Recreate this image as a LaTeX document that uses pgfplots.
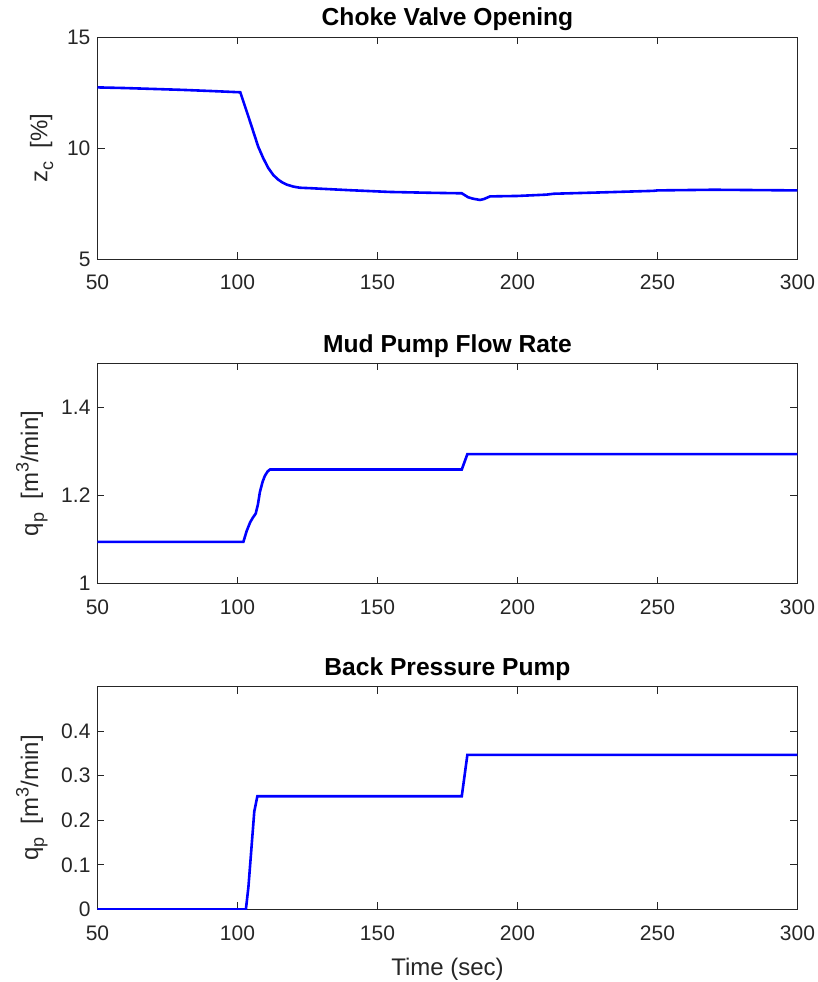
\documentclass[border=0pt]{standalone}
\usepackage{fontspec}
\setmainfont{Liberation Sans}
\usepackage{pgfplots}
\pgfplotsset{compat=1.18}
\definecolor{axgray}{gray}{0.15}
\newcommand{\sub}[1]{\raisebox{-0.45ex}{\fontsize{9}{9}\selectfont #1}}
\newcommand{\sups}[1]{\raisebox{0.75ex}{\fontsize{9}{9}\selectfont #1}}
\begin{document}
\begin{tikzpicture}
\pgfplotsset{
  every axis/.append style={
    width=350pt, scale only axis,
    xmin=50, xmax=300, xtick={50,100,...,300},
    tick align=inside, major tick length=3.5pt,
    axis line style={axgray, line width=0.5pt},
    every tick/.style={axgray, line width=0.5pt},
    tick label style={font=\fontsize{10.5}{12}\selectfont, text=axgray},
    xticklabel style={yshift=-4.5pt},
    /pgf/number format/assume math mode=true,
    title style={font=\fontsize{12.3}{14}\selectfont\bfseries, yshift=-6.5pt},
    ylabel style={font=\fontsize{12}{14}\selectfont, text=axgray},
    xlabel style={font=\fontsize{12}{14}\selectfont, text=axgray, yshift=-2pt},
    scaled ticks=false,
  },
}
\useasboundingbox (-48.75pt,-361.5pt) rectangle (360.25pt,129.5pt);
\begin{axis}[at={(0pt,0pt)}, anchor=south west, height=111pt,
  ymin=5, ymax=15, ytick={5,10,15},
  title={Choke Valve Opening},
  ylabel={z\sub{c}\ \ [\%]}]
\addplot[blue, line width=1.3pt] coordinates {
(50,12.73) (60,12.70) (70,12.66) (80,12.62) (90,12.57) (101,12.51) (104.2,11.3) (107.4,10.06) (109.2,9.54) (111,9.1) (112.8,8.78) (114.5,8.58) (116,8.45) (117.6,8.35) (120,8.26) (122.3,8.21) (126,8.19) (130.6,8.16) (140,8.1) (154.5,8.02) (170,7.98) (180.1,7.96) (182.4,7.78) (184,7.72) (186.6,7.66) (188,7.7) (190.2,7.82) (200,7.84) (210.4,7.9) (213,7.94) (230,8.0) (248.5,8.07) (250,8.09) (270,8.12) (300,8.09)
};
\end{axis}
\begin{axis}[at={(0pt,-162.35pt)}, anchor=south west, height=110.2pt,
  ymin=1, ymax=1.5, ytick={1,1.2,1.4},
  yticklabel style={/pgf/number format/fixed, /pgf/number format/precision=1},
  title={Mud Pump Flow Rate},
  ylabel={q\sub{p}\ \ [m\sups{3}/min]}]
\addplot[blue, line width=1.3pt] coordinates {
(50,1.095) (102.1,1.095) (103.3,1.12) (104.5,1.139) (105.5,1.15) (106.5,1.159) (107.3,1.18) (108,1.208) (109,1.232) (109.8,1.245) (110.8,1.255) (111.6,1.259) (180.1,1.259) (182.1,1.294) (300,1.294)
};
\end{axis}
\begin{axis}[at={(0pt,-325.15pt)}, anchor=south west, height=111.3pt,
  ymin=0, ymax=0.5, ytick={0,0.1,0.2,0.3,0.4},
  yticklabel style={/pgf/number format/fixed, /pgf/number format/precision=1},
  title={Back Pressure Pump},
  xlabel={Time (sec)},
  ylabel={q\sub{p}\ \ [m\sups{3}/min]}]
\addplot[blue, line width=1.3pt] coordinates {
(50,0) (103,0) (103.9,0.05) (106,0.22) (107.1,0.254) (180.1,0.254) (182.1,0.347) (300,0.347)
};
\end{axis}
\end{tikzpicture}
\end{document}
